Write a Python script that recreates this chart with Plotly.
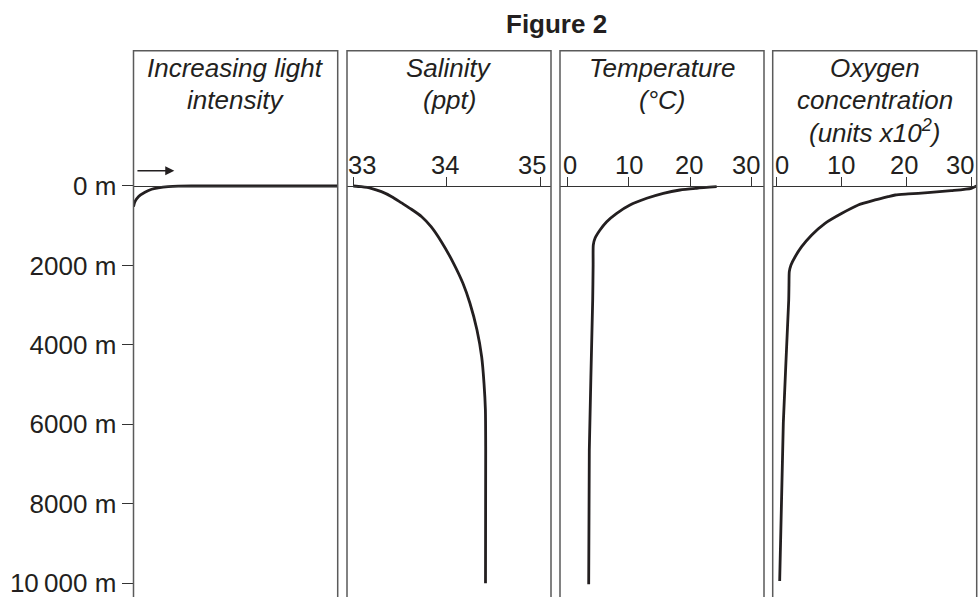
import plotly.graph_objects as go

# ---------------- data ----------------
depth_ticks = [0, 2000, 4000, 6000, 8000, 10000]
depth_ticktext = ["0 m", "2000 m", "4000 m", "6000 m", "8000 m", "10\u2009000 m"]

light_depth = [0, 0, 3, 18, 50, 83, 159, 269, 395, 521]
light_value = [100, 30, 21.9, 17.0, 12.1, 8.9, 5.6, 2.4, 0.7, 0.0]

sal_depth = [0, 18, 58, 143, 269, 420, 586, 773, 1024, 1402, 1946, 2449, 2952,
             3624, 4297, 4966, 5638, 6645, 10000]
sal_value = [33.0, 33.085, 33.19, 33.30, 33.41, 33.51, 33.62, 33.73, 33.83, 33.94,
             34.07, 34.17, 34.245, 34.32, 34.37, 34.395, 34.41, 34.413, 34.411]
sal_ticks = [33, 34, 35]

temp_depth = [18, 58, 101, 184, 310, 478, 687, 899, 1108, 1316, 1485, 1988, 2869, 6645, 10025]
temp_value = [24.3, 21.05, 18.33, 15.62, 12.92, 10.20, 8.04, 6.41, 5.32, 4.51, 4.23, 4.2,
              4.13, 3.58, 3.48]
temp_ticks = [0, 10, 20, 30]

oxy_depth = [0, 58, 118, 169, 201, 227, 269, 352, 478, 687, 939, 1233, 1528, 1780, 1988,
             2157, 2492, 2869, 5965, 9942]
oxy_value = [30.8, 30.0, 26.9, 23.3, 20.3, 18.3, 17.2, 15.2, 12.6, 10.1, 7.5, 5.45, 3.9,
             2.9, 2.26, 2.0, 1.95, 1.91, 1.08, 0.52]
oxy_ticks = [0, 10, 20, 30]

panel_titles = [
    ["Increasing light", "intensity"],
    ["Salinity", "(ppt)"],
    ["Temperature", "(°C)"],
    ["Oxygen", "concentration", "(units x10<sup>2</sup>)"],
]
fig_title = "Figure 2"

# ---------------- layout / style ----------------
W, H = 980, 597
FONT = "Liberation Sans, Arial, Helvetica, sans-serif"
TXT = "#231f20"
CURVE = "#231f20"
BORDER = "#5a5a5a"

def fx(p):
    return p / W

def fy(p):
    return 1 - p / H

domains = [
    [fx(133.5), fx(337.7)],
    [fx(347.0), fx(551.0)],
    [fx(560.0), fx(764.0)],
    [fx(772.7), fx(976.7)],
]
xranges = [
    [0, 100],
    [32.9328, 35.110],
    [-1.188, 32.0],
    [-0.554, 30.83],
]
ytop = fy(50.7)
yrange = [10345, -3405]
axis_pos = fy(186)
title_line_centers = [68.3, 100.3, 131.5]

# label offsets (px) relative to their tick, as in the reference
label_shift = [
    None,
    [8.7, -1.5, -8.2],
    [2.7, 0.3, -1.3, -6.0],
    [5.7, -0.7, -2.0, -11.8],
]

series = [
    (light_value, light_depth, None),
    (sal_value, sal_depth, sal_ticks),
    (temp_value, temp_depth, temp_ticks),
    (oxy_value, oxy_depth, oxy_ticks),
]

fig = go.Figure()
layout = dict(
    width=W, height=H,
    margin=dict(l=0, r=0, t=0, b=0),
    paper_bgcolor="white", plot_bgcolor="white",
    showlegend=False,
    font=dict(family=FONT, color=TXT, size=26),
)
annotations = []
shapes = []

for i, (xv, yv, ticks) in enumerate(series):
    n = "" if i == 0 else str(i + 1)
    fig.add_trace(go.Scatter(
        x=xv, y=yv, mode="lines",
        line=dict(color=CURVE, width=2.8, shape="spline", smoothing=0.6),
        xaxis="x" + n, yaxis="y" + n, hoverinfo="skip", showlegend=False,
    ))
    xa = dict(
        domain=domains[i], range=xranges[i], anchor="free", position=axis_pos,
        side="top", showline=True, linecolor="#333333", linewidth=1.2,
        showgrid=False, zeroline=False, showticklabels=False, fixedrange=True,
    )
    if ticks is not None:
        xa.update(ticks="outside", tickvals=ticks, ticklen=9, tickwidth=1.2,
                  tickcolor="#333333")
        for t, s in zip(ticks, label_shift[i]):
            annotations.append(dict(
                text=str(t), x=t, y=fy(165), xref="x" + n, yref="paper",
                xanchor="center", yanchor="middle", xshift=s, showarrow=False,
                font=dict(size=25.5, family=FONT, color=TXT),
            ))
    else:
        xa.update(ticks="")
    ya = dict(
        domain=[0, ytop], range=yrange, anchor="x" + n,
        showgrid=False, zeroline=False, showline=False, fixedrange=True,
    )
    if i == 0:
        ya.update(ticks="outside", tickvals=depth_ticks, ticktext=depth_ticktext,
                  ticklen=11, tickwidth=1.3, tickcolor="#333333",
                  ticklabeloverflow="allow",
                  tickfont=dict(size=26, family=FONT, color=TXT))
    else:
        ya.update(showticklabels=False, ticks="")
    layout["xaxis" + n] = xa
    layout["yaxis" + n] = ya

    shapes.append(dict(
        type="rect", xref="paper", yref="paper",
        x0=domains[i][0], x1=domains[i][1], y0=-0.05, y1=ytop,
        line=dict(color=BORDER, width=1.5), fillcolor="rgba(0,0,0,0)", layer="above",
    ))
    for k, line_text in enumerate(panel_titles[i]):
        annotations.append(dict(
            text="<i>" + line_text + "</i>",
            x=(domains[i][0] + domains[i][1]) / 2, y=fy(title_line_centers[k]),
            xref="paper", yref="paper",
            xanchor="center", yanchor="middle", showarrow=False,
            font=dict(size=26, family=FONT, color=TXT),
        ))

# figure title
annotations.append(dict(
    text="<b>" + fig_title + "</b>", x=fx(556.5), y=fy(23.5), xref="paper", yref="paper",
    xanchor="center", yanchor="middle", showarrow=False,
    font=dict(size=26, family=FONT, color=TXT),
))
# arrow showing direction of increasing light
annotations.append(dict(
    text="", x=20, y=-385, ax=1.2, ay=-385, xref="x", yref="y", axref="x", ayref="y",
    showarrow=True, arrowhead=2, arrowsize=1.3, arrowwidth=1.4, arrowcolor=CURVE,
))

layout["annotations"] = annotations
layout["shapes"] = shapes
fig.update_layout(**layout)
fig.write_html("out.html")
